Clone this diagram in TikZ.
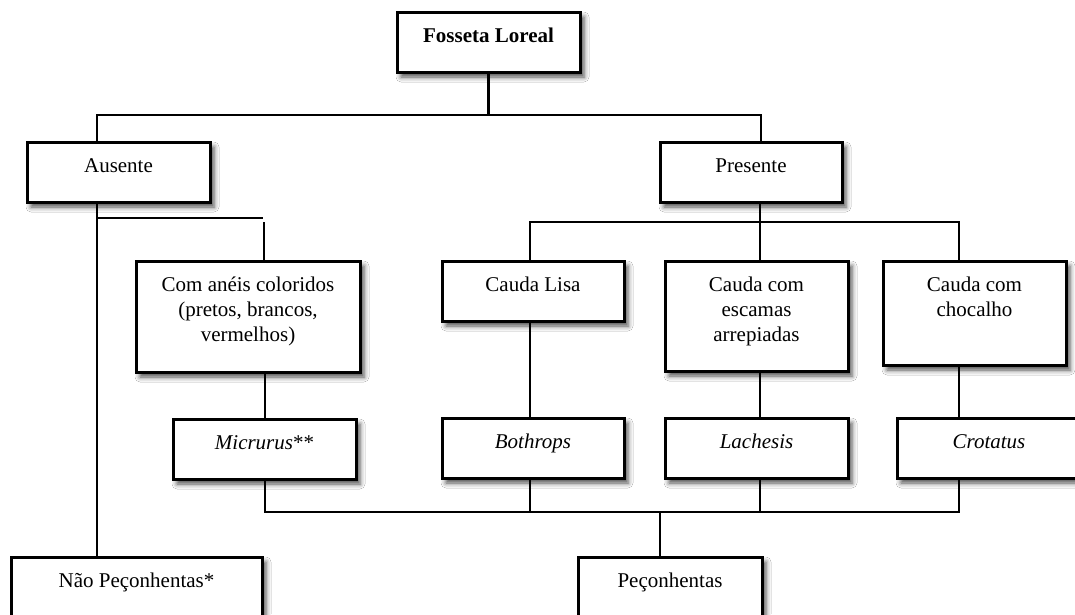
\documentclass[tikz,border=0pt]{standalone}
\usepackage{fontspec}
\setmainfont{Liberation Serif}
\usetikzlibrary{shadows.blur}
\newcommand{\bxt}[3]{\parbox[c][#2pt][t]{#1pt}{\centering\fontsize{21}{25}\selectfont\rule{0pt}{30pt}#3}}
\tikzset{
  boxnode/.style={draw=black, line width=3pt, fill=white, inner sep=0pt, outer sep=0pt,
    blur shadow={shadow xshift=4pt, shadow yshift=-5pt, shadow blur radius=5pt, shadow opacity=70}},
  conn/.style={draw=black, line width=2.3pt}
}
\begin{document}
\begin{tikzpicture}[x=1pt,y=-1pt]
\useasboundingbox[fill=white] (0,0) rectangle (1075,614);
\clip (0,0) rectangle (1075,614);
% boxes
\node[boxnode] (fl)   at (488.5,42)  {\bxt{183}{60}{\textbf{Fosseta Loreal}}};
\node[boxnode] (aus)  at (118.5,172) {\bxt{183}{60}{Ausente}};
\node[boxnode] (pre)  at (751,172)   {\bxt{182}{60}{Presente}};
\node[boxnode] (com)  at (248,316.5) {\bxt{224}{111}{Com anéis coloridos\\(pretos, brancos,\\vermelhos)}};
\node[boxnode] (lisa) at (533,291)   {\bxt{182}{60}{Cauda Lisa}};
\node[boxnode] (esc)  at (756.5,316) {\bxt{183}{110}{Cauda com\\escamas\\arrepiadas}};
\node[boxnode] (choc) at (974.5,313) {\bxt{183}{104}{Cauda com\\chocalho}};
\node[boxnode] (mic)  at (264.5,449) {\bxt{183}{60}{\textit{Micrurus}**}};
\node[boxnode] (both) at (533,448)   {\bxt{182}{60}{\textit{Bothrops}}};
\node[boxnode] (lach) at (756.5,448) {\bxt{183}{60}{\textit{Lachesis}}};
\node[boxnode] (crot) at (989,448)   {\bxt{184}{60}{\textit{Crotatus}}};
\node[boxnode] (nao)  at (136.5,587) {\bxt{251}{60}{Não Peçonhentas*}};
\node[boxnode] (pec)  at (670,587)   {\bxt{184}{60}{Peçonhentas}};
% junction coordinates
\coordinate (hL) at (97,115);
\coordinate (hR) at (761,115);
\coordinate (a1) at (97,218);
\coordinate (a2) at (263,218);
\coordinate (a3) at (264,222);
\coordinate (mx) at (265,512);
\coordinate (cx) at (959,512);
\coordinate (px) at (660,512);
\coordinate (pv) at (760,222);
\coordinate (pl) at (530,222);
\coordinate (pr) at (959,222);
\coordinate (lx) at (530,512);
\coordinate (ex) at (760,512);
% connectors
\draw[conn] (fl.south) -- (fl.south |- hL);
\draw[conn] (aus.north -| hL) -- (hL) -- (hR) -- (hR |- pre.north);
\draw[conn] (hL |- aus.south) -- (hL |- nao.north);
\draw[conn] (a1) -- (a2);
\draw[conn] (a3) -- (a3 |- com.north);
\draw[conn] (mx |- com.south) -- (mx |- mic.north);
\draw[conn] (mx |- mic.south) -- (mx) -- (cx) -- (cx |- crot.south);
\draw[conn] (pv |- pre.south) -- (pv);
\draw[conn] (pl |- lisa.north) -- (pl) -- (pr) -- (pr |- choc.north);
\draw[conn] (pv) -- (pv |- esc.north);
\draw[conn] (pl |- lisa.south) -- (pl |- both.north);
\draw[conn] (lx |- both.south) -- (lx);
\draw[conn] (pv |- esc.south) -- (pv |- lach.north);
\draw[conn] (ex |- lach.south) -- (ex);
\draw[conn] (pr |- choc.south) -- (pr |- crot.north);
\draw[conn] (px) -- (px |- pec.north);
\end{tikzpicture}
\end{document}
